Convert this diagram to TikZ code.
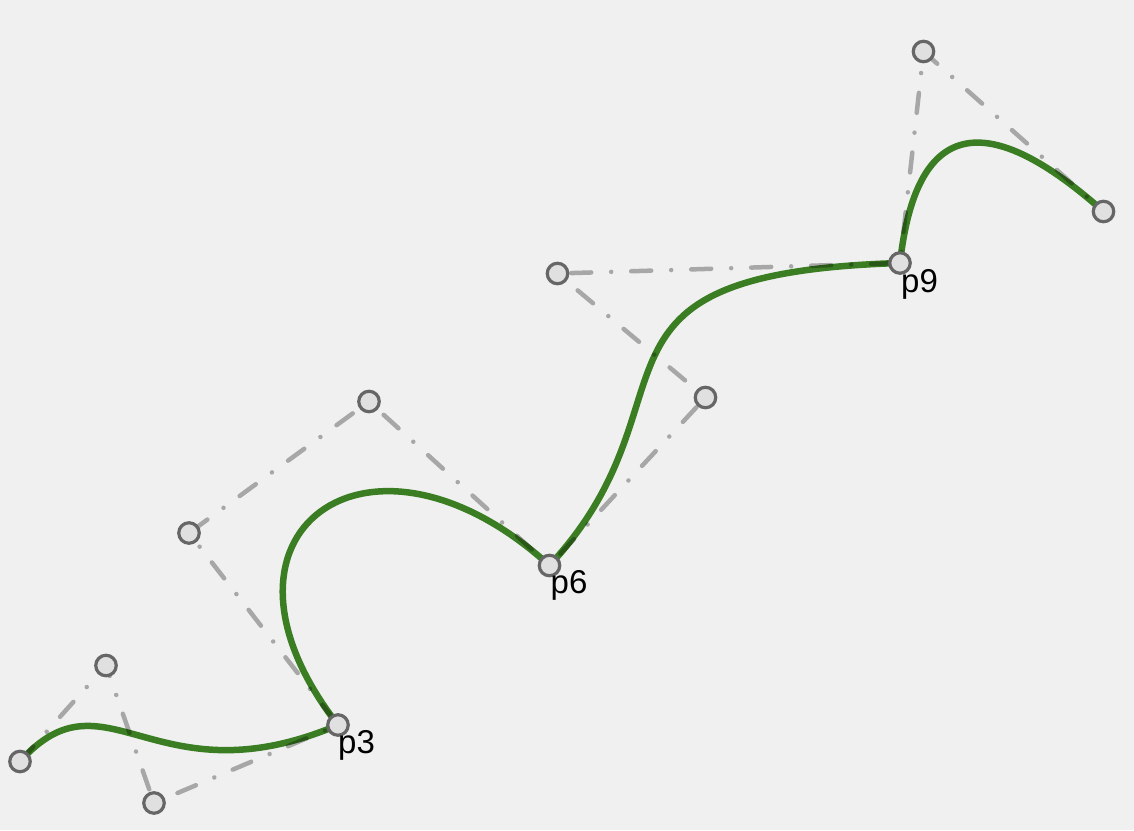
\documentclass[tikz,border=0pt]{standalone}
\usepackage{fontspec}
\setmainfont{Liberation Sans}
\definecolor{bgc}{HTML}{F0F0F0}
\definecolor{curvec}{HTML}{3A7D22}
\definecolor{ptfill}{HTML}{E0E0E0}
\definecolor{ptdraw}{HTML}{666666}
\tikzset{
  ctrlpoly/.style={draw=black, draw opacity=0.3, line width=4.5pt, line cap=round, line join=round,
    dash pattern=on 20pt off 20pt on 0.01pt off 20pt},
  curveline/.style={draw=curvec, line width=6.5pt, line cap=round},
  ptnode/.style={circle, draw=ptdraw, fill=ptfill, line width=3.2pt, inner sep=0pt, minimum size=20.5pt},
  lbl/.style={anchor=base west, inner sep=0pt, font=\fontsize{33}{36}\selectfont}
}
\begin{document}
\begin{tikzpicture}[x=1pt,y=-1pt]
\useasboundingbox (0,0) rectangle (1134,830);
\fill[bgc] (0,0) rectangle (1134,830);
\coordinate (P0) at (20,761.5);
\coordinate (C1) at (106,665.5);
\coordinate (C2) at (154,803);
\coordinate (P3) at (338,725);
\coordinate (C4) at (189,533);
\coordinate (C5) at (369,401.5);
\coordinate (P6) at (549.5,565.5);
\coordinate (C7) at (705.5,397.5);
\coordinate (C8) at (557.5,273.5);
\coordinate (P9) at (900,263);
\coordinate (C10) at (923.5,51.5);
\coordinate (P11) at (1103.5,211.5);
\coordinate (Q1) at (915.67,122);
\coordinate (Q2) at (983.5,104.83);
% curve
\draw[curveline] (P0) .. controls (C1) and (C2) .. (P3)
  .. controls (C4) and (C5) .. (P6)
  .. controls (C7) and (C8) .. (P9)
  .. controls (Q1) and (Q2) .. (P11);
% control polygon
\draw[ctrlpoly] (P0) -- (C1) -- (C2) -- (P3) -- (C4) -- (C5) -- (P6) -- (C7) -- (C8) -- (P9) -- (C10) -- (P11);
% points
\node[ptnode] (n0) at (P0) {};
\node[ptnode] (n1) at (C1) {};
\node[ptnode] (n2) at (C2) {};
\node[ptnode] (n3) at (P3) {};
\node[ptnode] (n4) at (C4) {};
\node[ptnode] (n5) at (C5) {};
\node[ptnode] (n6) at (P6) {};
\node[ptnode] (n7) at (C7) {};
\node[ptnode] (n8) at (C8) {};
\node[ptnode] (n9) at (P9) {};
\node[ptnode] (n10) at (C10) {};
\node[ptnode] (n11) at (P11) {};
% labels
\node[lbl] (l3) at ([shift={(0,28)}]P3) {p3};
\node[lbl] (l6) at ([shift={(1,28)}]P6) {p6};
\node[lbl] (l9) at ([shift={(1,29)}]P9) {p9};
\end{tikzpicture}
\end{document}
